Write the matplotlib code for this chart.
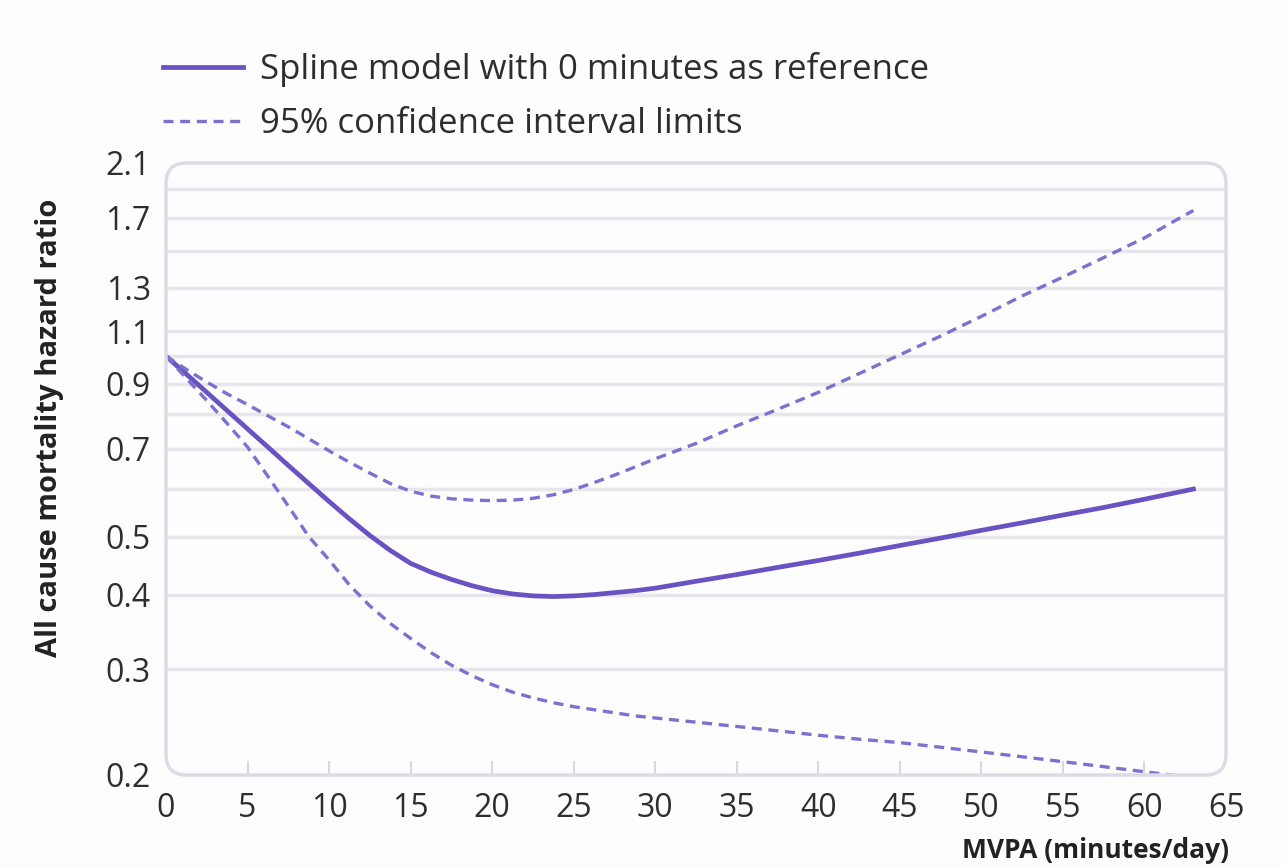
import matplotlib
matplotlib.use('Agg')
import matplotlib.pyplot as plt
from matplotlib.patches import FancyBboxPatch
from matplotlib.ticker import NullLocator

## values (hazard ratio vs minutes of MVPA)
minutes = [0, 1.25, 2.5, 3.75, 5, 6.25, 7.5, 8.75, 10, 11.25, 12.5, 13.75, 15,
           16.25, 17.5, 18.75, 20, 21.25, 22.5, 23.75, 25, 26.25, 27.5, 28.75, 30,
           32.5, 35, 37.5, 40, 42.5, 45, 47.5, 50, 52.5, 55, 57.5, 60, 63]
spline_hr = [1.000, 0.933, 0.870, 0.811, 0.756, 0.705, 0.657, 0.613, 0.572, 0.535,
             0.502, 0.474, 0.451, 0.436, 0.424, 0.414, 0.406, 0.401, 0.398, 0.397,
             0.398, 0.400, 0.403, 0.406, 0.410,
             0.421, 0.432, 0.444, 0.456, 0.469, 0.483, 0.497, 0.512, 0.527, 0.543,
             0.559, 0.577, 0.600]
upper_ci = [1.000, 0.950, 0.905, 0.865, 0.830, 0.795, 0.762, 0.728, 0.695, 0.665,
            0.638, 0.613, 0.595, 0.584, 0.578, 0.575, 0.574, 0.575, 0.579, 0.587,
            0.599, 0.615, 0.633, 0.653, 0.674,
            0.715, 0.765, 0.815, 0.870, 0.935, 1.005, 1.080, 1.165, 1.260, 1.355,
            1.460, 1.575, 1.750]
lower_ci = [1.000, 0.918, 0.843, 0.772, 0.705, 0.630, 0.562, 0.500, 0.457, 0.415,
            0.383, 0.358, 0.338, 0.320, 0.305, 0.293, 0.283, 0.275, 0.269, 0.264,
            0.260, 0.257, 0.254, 0.251, 0.249,
            0.245, 0.241, 0.237, 0.233, 0.2295, 0.2265, 0.2225, 0.2185, 0.2145,
            0.2105, 0.2065, 0.2025, 0.198]

y_ticks = [0.2, 0.3, 0.4, 0.5, 0.7, 0.9, 1.1, 1.3, 1.7, 2.1]
y_grid = [0.3, 0.4, 0.5, 0.6, 0.7, 0.8, 0.9, 1.0, 1.1, 1.3, 1.5, 1.7, 1.9]
x_ticks = list(range(0, 70, 5))

labels = ['Spline model with 0 minutes as reference', '95% confidence interval limits']
y_title = 'All cause mortality hazard ratio'
x_title = 'MVPA (minutes/day)'

plt.rcParams['font.family'] = ['Open Sans', 'DejaVu Sans']

W, H = 1286, 867
fig = plt.figure(figsize=(W / 100, H / 100), dpi=100)
fig.patch.set_facecolor('#fdfdfe')

left, right, top, bottom = 166, 1226, 163, 775
ax = fig.add_axes([left / W, 1 - bottom / H, (right - left) / W, (bottom - top) / H])
ax.set_facecolor('none')

solid_col = '#6a52c2'
dash_col = '#7a72cf'
grid_col = '#e6e6eb'

ax.hlines(y_grid, 0, 65, colors=grid_col, lw=2.5, zorder=1)

ax.plot(minutes, spline_hr, color=solid_col, lw=3.4, zorder=3, label=labels[0],
        solid_joinstyle='round')
ax.plot(minutes, upper_ci, color=dash_col, lw=2.4, dashes=(3, 2), zorder=3, label=labels[1])
ax.plot(minutes, lower_ci, color=dash_col, lw=2.4, dashes=(3, 2), zorder=3)

ax.set_yscale('log')
ax.set_ylim(0.2, 2.1)
ax.set_xlim(0, 65)
ax.set_yticks(y_ticks)
ax.set_yticklabels([f'{v:.1f}' for v in y_ticks])
ax.yaxis.set_minor_locator(NullLocator())
ax.set_xticks(x_ticks)

for s in ax.spines.values():
    s.set_visible(False)

ax.tick_params(axis='y', length=0, pad=11, labelsize=23, labelcolor='#2e2e2e')
ax.tick_params(axis='x', direction='in', length=10, width=1.5, color='#d8d8e0',
               pad=12, labelsize=23, labelcolor='#2e2e2e')
xt = ax.xaxis.get_major_ticks()
xt[0].tick1line.set_visible(False)
xt[-1].tick1line.set_visible(False)

# rounded frame around the plotting area
frame = FancyBboxPatch((left / W, 1 - bottom / H), (right - left) / W, (bottom - top) / H,
                       boxstyle='round,pad=0,rounding_size=0.016',
                       mutation_aspect=W / H, transform=fig.transFigure,
                       fill=False, edgecolor='#dcdce6', lw=2.5, zorder=5)
fig.patches.append(frame)

fig.text(50 / W, 1 - 428 / H, y_title, rotation=90, ha='center', va='center',
         fontsize=21, fontweight='bold', color='#222222')
fig.text(1095 / W, 1 - 864 / H, x_title, ha='center', va='bottom',
         fontsize=19, fontweight='bold', color='#222222')

fig.legend(loc='upper left', bbox_to_anchor=(163 / W, 1 - 52 / H), frameon=False,
           fontsize=25, handlelength=2.3, handletextpad=0.5, labelspacing=0.58,
           borderpad=0, borderaxespad=0, labelcolor='#2e2e2e')

fig.savefig('out.png', dpi=100, facecolor=fig.get_facecolor())
